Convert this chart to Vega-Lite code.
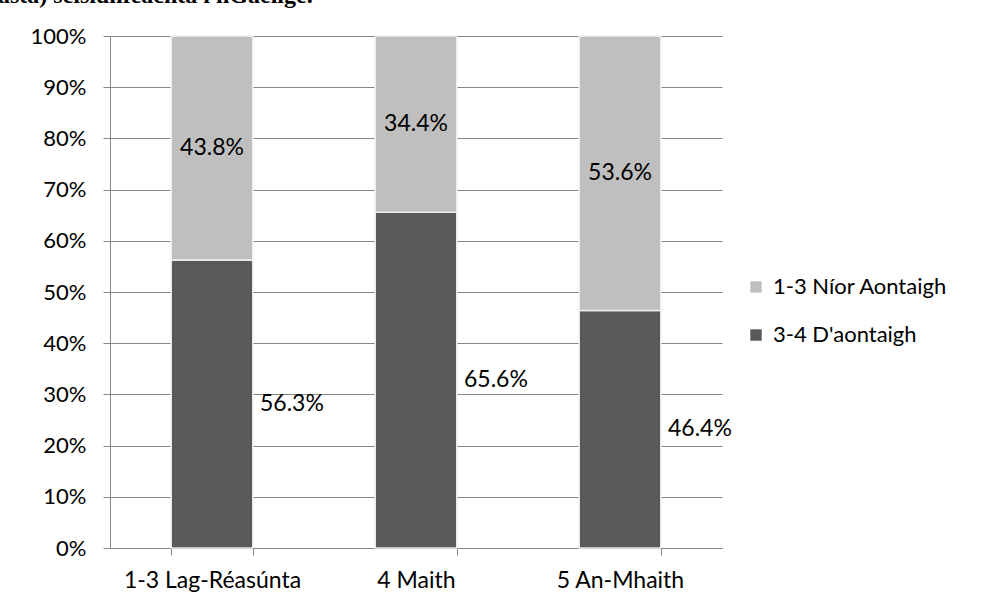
{
  "$schema": "https://vega.github.io/schema/vega-lite/v6.json",
  "autosize": "none",
  "width": 612,
  "height": 512,
  "padding": {"left": 110, "top": 36, "right": 283, "bottom": 60},
  "background": "white",
  "title": {
    "text": "asta) seisiúnfeachta i nGaeilge.",
    "anchor": "start",
    "frame": "group",
    "font": "Liberation Serif",
    "fontSize": 24,
    "fontWeight": "bold",
    "color": "black",
    "baseline": "bottom",
    "offset": 0,
    "dy": 7,
    "dx": -112
  },
  "data": {
    "values": [
      {"cat": "1-3 Lag-Réasúnta", "grp": "3-4 D'aontaigh", "ord": 1, "value": 0.563},
      {"cat": "1-3 Lag-Réasúnta", "grp": "1-3 Níor Aontaigh", "ord": 2, "value": 0.438},
      {"cat": "4 Maith", "grp": "3-4 D'aontaigh", "ord": 1, "value": 0.656},
      {"cat": "4 Maith", "grp": "1-3 Níor Aontaigh", "ord": 2, "value": 0.344},
      {"cat": "5 An-Mhaith", "grp": "3-4 D'aontaigh", "ord": 1, "value": 0.464},
      {"cat": "5 An-Mhaith", "grp": "1-3 Níor Aontaigh", "ord": 2, "value": 0.536}
    ]
  },
  "encoding": {
    "x": {
      "field": "cat",
      "type": "nominal",
      "sort": null,
      "title": null,
      "scale": {"paddingInner": 0.6, "paddingOuter": 0.3},
      "axis": {
        "labelAngle": 0,
        "tickBand": "extent",
        "labelPadding": 14,
        "labelFontSize": 23,
        "tickSize": 7
      }
    }
  },
  "layer": [
    {
      "mark": {"type": "bar", "stroke": "#f0f0f0", "strokeWidth": 1.5},
      "encoding": {
        "y": {
          "field": "value",
          "type": "quantitative",
          "stack": "normalize",
          "title": null,
          "scale": {"domain": [0, 1]},
          "axis": {
            "format": "%",
            "values": [0, 0.1, 0.2, 0.3, 0.4, 0.5, 0.6, 0.7, 0.8, 0.9, 1],
            "labelOverlap": false,
            "grid": true,
            "tickSize": 7,
            "labelPadding": 17
          }
        },
        "color": {
          "field": "grp",
          "type": "nominal",
          "scale": {
            "domain": ["1-3 Níor Aontaigh", "3-4 D'aontaigh"],
            "range": ["#bfbfbf", "#595959"]
          },
          "legend": {
            "title": null,
            "orient": "none",
            "legendX": 635,
            "legendY": 240,
            "symbolType": "square",
            "symbolSize": 130,
            "symbolStrokeWidth": 0,
            "labelFontSize": 22,
            "labelFont": "Lato",
            "labelColor": "black",
            "labelLimit": 400,
            "rowPadding": 26,
            "labelOffset": 6
          }
        },
        "order": {"field": "ord", "type": "quantitative"}
      }
    },
    {
      "transform": [
        {"stack": "value", "groupby": ["cat"], "sort": [{"field": "ord"}], "as": ["y0", "y1"], "offset": "normalize"},
        {"calculate": "(datum.y0 + datum.y1) / 2", "as": "mid"},
        {"filter": "datum.ord == 2"}
      ],
      "mark": {"type": "text", "font": "Lato", "fontSize": 23, "color": "black", "align": "center", "baseline": "middle"},
      "encoding": {
        "y": {"field": "mid", "type": "quantitative"},
        "text": {"field": "value", "type": "quantitative", "format": ".1%"}
      }
    },
    {
      "transform": [
        {"stack": "value", "groupby": ["cat"], "sort": [{"field": "ord"}], "as": ["y0", "y1"], "offset": "normalize"},
        {"calculate": "(datum.y0 + datum.y1) / 2", "as": "mid"},
        {"filter": "datum.ord == 1"}
      ],
      "mark": {"type": "text", "font": "Lato", "fontSize": 23, "color": "black", "align": "left", "baseline": "middle", "dx": 48},
      "encoding": {
        "y": {"field": "mid", "type": "quantitative"},
        "text": {"field": "value", "type": "quantitative", "format": ".1%"}
      }
    }
  ],
  "config": {
    "view": {"stroke": null},
    "axis": {
      "labelFont": "Lato",
      "labelFontSize": 22,
      "labelColor": "black",
      "domainColor": "#868686",
      "tickColor": "#868686",
      "gridColor": "#868686",
      "domainWidth": 1,
      "tickWidth": 1,
      "gridWidth": 1
    }
  }
}
